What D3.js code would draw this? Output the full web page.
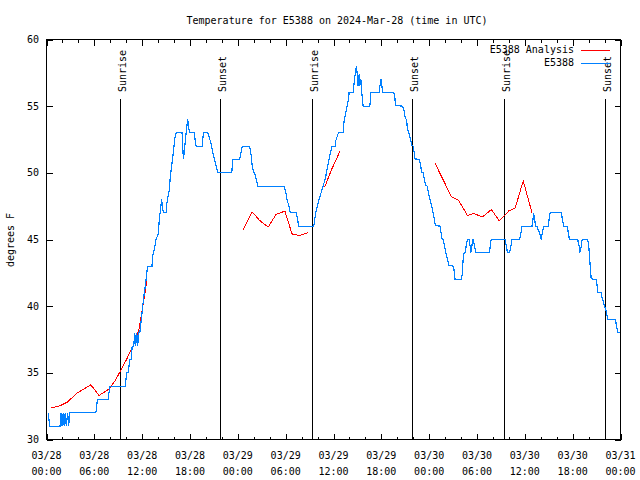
<!DOCTYPE html>
<html><head><meta charset="utf-8">
<script src="https://cdn.jsdelivr.net/npm/d3@7"></script>
<style>
body{margin:0;background:#fff}
text{font-family:"DejaVu Sans Mono",monospace;font-size:10px;fill:#000}
</style>
</head><body><svg id="c" width="640" height="480"></svg>
<script>
// ---- data (hours since 2024-03-28 00:00 UTC) ----
const obsHours = [0.22,0.40,1.70,1.82,1.95,2.10,2.22,2.35,2.48,2.66,2.79,2.87,6.19,6.39,7.73,7.95,9.87,10.06,10.25,10.44,10.63,10.75,10.94,11.07,11.19,11.32,11.44,11.57,11.70,11.89,12.07,12.26,12.39,12.58,12.68,13.23,13.31,13.52,13.73,14.02,14.15,14.36,14.44,14.59,14.69,14.99,15.12,15.24,15.41,15.53,15.75,15.91,16.07,16.25,17.00,17.17,17.29,17.42,17.71,17.83,18.01,18.55,18.68,18.76,19.52,19.68,20.22,20.44,20.65,20.85,21.07,21.28,21.48,23.24,23.37,24.21,24.42,24.55,25.47,25.68,25.81,25.97,26.19,26.31,26.51,29.78,30.00,30.16,30.37,30.59,31.34,31.47,31.63,33.52,33.77,33.98,34.18,34.44,34.69,34.99,35.19,35.44,35.62,35.82,36.20,36.28,36.45,36.62,37.20,37.33,37.50,37.71,37.88,37.96,38.46,38.59,38.76,38.89,38.96,39.09,39.22,39.30,39.43,39.55,39.72,40.56,40.69,41.73,41.82,41.95,42.07,42.16,43.58,43.70,43.79,44.67,44.84,45.00,45.18,45.25,45.43,45.68,45.81,46.01,46.22,46.76,46.94,47.06,47.26,47.39,47.56,47.77,47.89,48.11,48.32,48.48,48.65,48.77,49.37,49.49,49.62,49.78,49.91,50.08,50.28,50.50,51.04,51.17,51.25,52.04,52.17,52.26,52.38,52.51,52.64,52.80,53.01,53.14,53.22,53.35,53.48,53.55,53.68,53.85,55.57,55.65,55.78,57.54,57.75,57.83,58.08,58.26,58.38,59.34,59.52,59.64,60.90,61.02,61.10,61.23,61.35,61.53,61.65,61.82,61.94,62.07,62.19,62.36,62.91,63.04,63.17,64.58,64.71,64.87,65.30,65.46,65.59,66.63,66.81,66.89,67.07,67.19,67.89,68.02,68.14,68.32,68.95,69.07,69.15,69.58,69.70,69.83,69.99,70.15,70.24,70.41,71.37,71.50,71.67,71.92];
const obsTemps = [32,31,31,32,31,32,31,32,31,32,31,32,32,33,33,34,34,35,35,36,36,37,37,38,37,38,37,38,38,39,40,41,41.5,42.5,43,43,43.75,44.25,45,45.4,46.5,47.55,48.05,47.2,47,47,47.8,48.25,48.75,49.75,50.75,51.5,52.5,53,53,51.05,51.5,52.5,54.05,53.3,53,53,52.25,52,52,53,53,52.6,52.2,51.5,51,50.5,50.05,50,51,51,51.55,52,52,51.3,50.5,50.1,49.8,49.5,49,49,48.6,48,47.6,47,47,46.6,46,46,47,47.5,48,48.5,49,49.6,50.25,51,51.5,52,52,52.4,52.7,53,53,53.9,54.4,55,55.5,56.05,56,56.75,57.6,58,57.5,56.5,57.4,56.5,57,56,55,55,56,56,56.5,57.05,56.5,56,56,55.6,55.05,55,54.7,54.1,54,53.4,53,52.5,52.05,52,51.05,51,50.5,50,50,49.5,49.05,49,48.55,48,47.5,47,46.5,46.05,46,45.5,45.05,45,44.55,44.05,43.55,43.05,43,42.5,42,42,42.5,43.5,44,44,44.5,45,45,44.5,44,44.5,45,45,44.5,44,44,44.5,45,45,44.25,44,44,44.5,45,45,45.5,46,46,46.5,47,46.5,46,46,45.75,45.55,45.3,45,45.5,46,46,46.5,47,47,46.5,46,46,45.5,45,45,44.5,44,44.5,45,45,44.5,43.5,42.05,42,41.5,41,41,40.6,40.4,40,39.8,39.5,39,39,38.5,38,38];

// analysis series; null = gap
const anaHours = [0.6,1.57,2.6,3.87,5.56,6.6,7.86,8.7,10.04,10.9,11.6,12.6,null,24.7,25.8,26.7,27.8,28.8,29.9,30.8,31.7,32.8,null,34.9,35.8,36.8,null,48.75,50.8,51.7,52.8,53.55,54.7,55.8,56.8,58.0,58.8,59.8,60.9];
const anaTemps = [32.37,32.5,32.8,33.5,34.1,33.3,33.8,34.5,36.0,37.1,38.3,41.9,null,45.75,47.07,46.45,45.93,46.88,47.13,45.42,45.3,45.5,null,48.95,50.3,51.6,null,50.7,48.2,47.93,46.8,46.95,46.7,47.25,46.4,47.15,47.37,49.4,47.0];

const sunHours = [9.28,21.73,33.30,45.88,57.33,70.05];
const sunLabels = ["Sunrise","Sunset","Sunrise","Sunset","Sunrise","Sunset"];
const yTicks = [30,35,40,45,50,55,60];
const seriesNames = ["E5388 Analysis","E5388"];
const seriesColors = ["#ff0000","#0080ff"];
const titleText = "Temperature for E5388 on 2024-Mar-28 (time in UTC)";
const yLabel = "degrees F";

// ---- chart ----
const t0 = Date.UTC(2024,2,28);
const toDate = h => new Date(t0 + h*3600e3);
const svg = d3.select("#c");
const x = d3.scaleUtc().domain([toDate(0), toDate(72)]).range([46.5, 620.5]);
const y = d3.scaleLinear().domain([30,60]).range([439.5, 39.5]);
const X0 = x.range()[0], X1 = x.range()[1], Y0 = y.range()[0], Y1 = y.range()[1];

svg.append("rect").attr("width",640).attr("height",480).attr("fill","#fff");

const g = svg.append("g").attr("shape-rendering","crispEdges").attr("stroke","#000").attr("stroke-width",1);
// minor ticks (2h)
x.ticks(d3.utcHour.every(2)).forEach(d => {
  const xx = Math.round(x(d)) + 0.5;
  g.append("line").attr("x1",xx).attr("x2",xx).attr("y1",Y0).attr("y2",Y0-3);
  g.append("line").attr("x1",xx).attr("x2",xx).attr("y1",Y1).attr("y2",Y1+3);
});
// major ticks (6h)
const fmtD = d3.utcFormat("%m/%d"), fmtT = d3.utcFormat("%H:%M");
x.ticks(d3.utcHour.every(6)).forEach(d => {
  const xx = Math.round(x(d)) + 0.5;
  g.append("line").attr("x1",xx).attr("x2",xx).attr("y1",Y0).attr("y2",Y0-6);
  g.append("line").attr("x1",xx).attr("x2",xx).attr("y1",Y1).attr("y2",Y1+6);
  svg.append("text").attr("x",x(d)).attr("y",459).attr("text-anchor","middle").text(fmtD(d));
  svg.append("text").attr("x",x(d)).attr("y",475).attr("text-anchor","middle").text(fmtT(d));
});
yTicks.forEach(v => {
  const yy = Math.round(y(v)) + 0.5;
  g.append("line").attr("x1",X0).attr("x2",X0+6).attr("y1",yy).attr("y2",yy);
  g.append("line").attr("x1",X1).attr("x2",X1-6).attr("y1",yy).attr("y2",yy);
  svg.append("text").attr("x",39).attr("y",y(v)+3.5).attr("text-anchor","end").text(v);
});

// sunrise / sunset
sunHours.forEach((h,i) => {
  const xx = Math.round(x(toDate(h))) + 0.5;
  g.append("line").attr("x1",xx).attr("x2",xx).attr("y1",99).attr("y2",Y0);
  svg.append("text").attr("transform",`translate(${xx+5},92) rotate(-90)`).attr("text-anchor","start").text(sunLabels[i]);
});

// border
g.append("rect").attr("x",X0).attr("y",Y1).attr("width",X1-X0).attr("height",Y0-Y1).attr("fill","none");

// series
const anaData = anaHours.map((h,i) => ({h, v: anaTemps[i]}));
const obsData = obsHours.map((h,i) => ({h, v: obsTemps[i]}));
const line = d3.line().defined(d => d.h !== null && d.v !== null).x(d => x(toDate(d.h))).y(d => y(d.v));
svg.append("path").datum(anaData).attr("d",line).attr("fill","none").attr("stroke",seriesColors[0]).attr("stroke-width",1).attr("shape-rendering","crispEdges");
svg.append("path").datum(obsData).attr("d",line).attr("fill","none").attr("stroke",seriesColors[1]).attr("stroke-width",1.2).attr("shape-rendering","crispEdges");

// legend
seriesNames.forEach((n,i) => {
  const ly = 49.5 + i*13.3;
  svg.append("text").attr("x",574).attr("y",ly+3.5).attr("text-anchor","end").text(n);
  svg.append("line").attr("x1",581).attr("x2",610).attr("y1",Math.round(ly)+0.5).attr("y2",Math.round(ly)+0.5)
    .attr("stroke",seriesColors[i]).attr("stroke-width",1).attr("shape-rendering","crispEdges");
});

// title & y label
svg.append("text").attr("x",337).attr("y",23.5).attr("text-anchor","middle").text(titleText);
svg.append("text").attr("transform","translate(14,240) rotate(-90)").attr("text-anchor","middle").text(yLabel);
</script>
</body></html>
